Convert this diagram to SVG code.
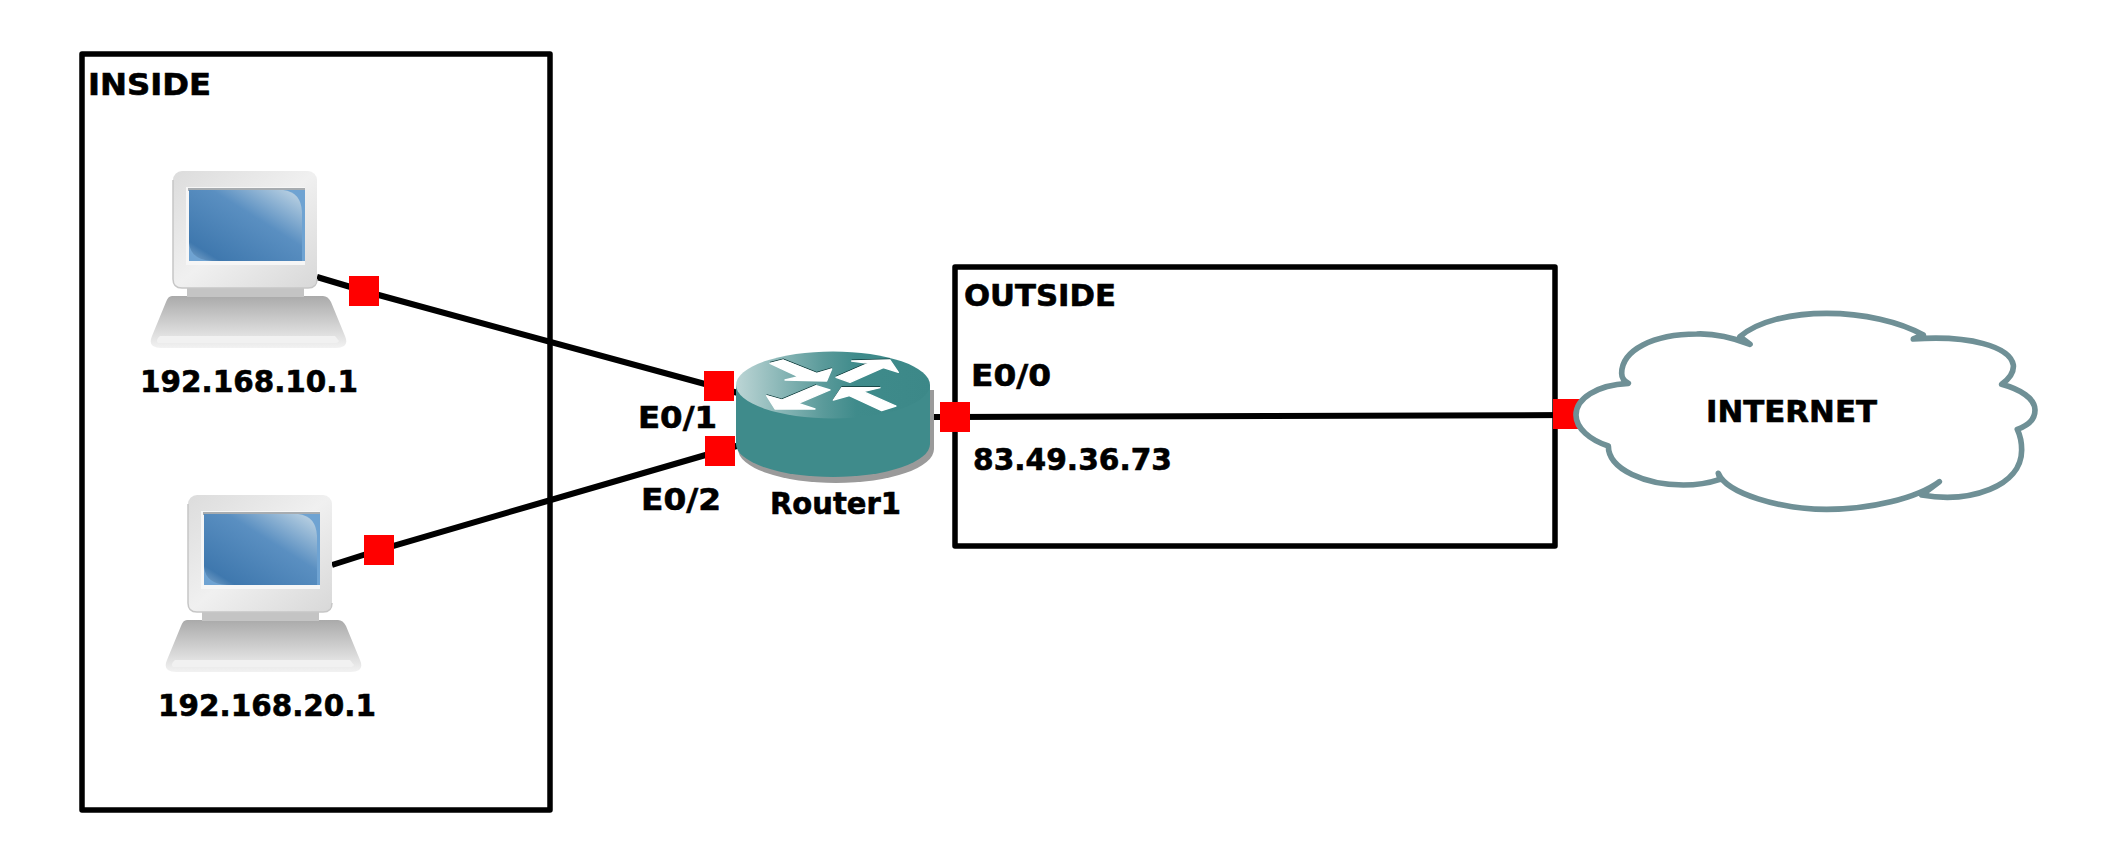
<svg xmlns="http://www.w3.org/2000/svg" width="2121" height="864" viewBox="0 0 2121 864">
<style>
text{font-family:"DejaVu Sans","Liberation Sans",sans-serif;font-weight:700;font-size:30px;fill:#000;stroke:#000;stroke-width:.6}
.zone{fill:none;stroke:#000;stroke-width:5.500;stroke-linejoin:round}
.link{fill:none;stroke:#000;stroke-width:6}
.port{fill:#f00}
.arrow{fill:#fff;stroke:#fff;stroke-width:4;stroke-linejoin:round}
.edge{fill:none;stroke:#123c3c;stroke-width:3}
</style>
<defs>
<linearGradient id="bez" x1="0" y1="0" x2="1" y2="1"><stop offset="0" stop-color="#dcdcdc"/><stop offset=".5" stop-color="#f0f0f0"/><stop offset="1" stop-color="#d8d8d8"/></linearGradient>
<linearGradient id="scr" x1="0" y1="1" x2="1" y2="0"><stop offset="0" stop-color="#80a8cc"/><stop offset=".14" stop-color="#3f78ae"/><stop offset=".6" stop-color="#5a8fc1"/><stop offset="1" stop-color="#c4d8e6"/></linearGradient>
<linearGradient id="base" x1="0" y1="0" x2="0" y2="1"><stop offset="0" stop-color="#aaaaaa"/><stop offset="1" stop-color="#f2f2f2"/></linearGradient>
<linearGradient id="rtop" x1="0" y1="0" x2="1" y2="0"><stop offset="0" stop-color="#bcd5d5"/><stop offset=".45" stop-color="#5a9a9a"/><stop offset=".62" stop-color="#3f8b8b"/><stop offset="1" stop-color="#3c8888"/></linearGradient>
<g id="pc">
<path d="M172 296H323Q328 296 331 302L345 336Q350 348 336 348H161Q147 348 152 336L166 302Q168 296 172 296Z" fill="url(#base)"/>
<path d="M158 343Q156 341 158 338L160 336L335 336L339 341Q338 343 336 343Z" fill="#f1f1f1"/>
<rect x="187" y="285" width="117" height="12" fill="#c4c4c4"/>
<rect x="173" y="171" width="144" height="117" rx="9" fill="url(#bez)"/>
<path d="M173 180V279Q173 288 182 288H308Q317 288 317 279" fill="none" stroke="#c6c6c6" stroke-width="1.500"/>
<rect x="186" y="187" width="119" height="78" fill="#f6f6f6"/>
<rect x="188" y="188" width="117" height="3" fill="#a7acb0"/>
<rect x="189" y="190" width="116" height="71" fill="#6fa3d2"/>
<path d="M189 190H283Q301 192 302 212V261H212Q191 260 189 243Z" fill="url(#scr)"/>
</g>
</defs>
<rect width="2121" height="864" fill="#fff"/>
<g id="connectors">
<path class="link" d="M317 277L364 291L738 393"/>
<path class="link" d="M332 565L379 550L740 445"/>
<path class="link" d="M928 417L955 417L1568 415"/>
</g>
<g id="zone-inside"><rect class="zone" x="82" y="54" width="468" height="756"/><text x="88" y="95" textLength="123" lengthAdjust="spacingAndGlyphs">INSIDE</text></g>
<g id="zone-outside"><rect class="zone" x="955" y="267" width="600" height="279"/><text x="964" y="306" textLength="152" lengthAdjust="spacingAndGlyphs">OUTSIDE</text></g>
<g id="pc1"><use href="#pc"/><text x="140" y="392" textLength="218" lengthAdjust="spacingAndGlyphs">192.168.10.1</text></g>
<g id="pc2"><use href="#pc" transform="translate(15 324)"/><text x="158" y="716" textLength="218" lengthAdjust="spacingAndGlyphs">192.168.20.1</text></g>
<g id="router1">
<path d="M738 390V449A98 34 0 0 0 934 449V390Z" fill="#9a9a9a"/>
<path d="M736 385V444A97 33 0 0 0 930 444V385Z" fill="#3f8b8b"/>
<ellipse cx="833" cy="385" rx="97" ry="33.500" fill="url(#rtop)"/>
<g transform="translate(730 345) scale(.33333)">
<path class="edge" d="M120 52L160 42L260 82L305 69M365 45L480 42M318 94L415 52M110 149L155 162L258 119M335 125L450 125M310 163L335 125"/>
<path class="arrow" d="M120 55L160 45L260 85L305 72L290 108L165 105L205 95Z"/>
<path class="arrow" d="M365 48L480 45L505 82L460 68L360 112L318 97L415 55Z"/>
<path class="arrow" d="M110 152L155 165L258 122L300 135L205 175L255 192L135 192Z"/>
<path class="arrow" d="M310 165L335 128L450 128L400 140L498 183L455 197L358 152Z"/>
</g>
<text x="770" y="514" textLength="131" lengthAdjust="spacingAndGlyphs">Router1</text>
</g>
<g id="cloud">
<rect class="port" x="1553" y="399" width="30" height="30"/>
<g transform="translate(1540 290) scale(.33333)">
<path d="M265 280C170 285 108 325 108 375C108 415 150 450 205 468C205 540 320 585 430 585C470 585 510 578 540 568L535 550C560 610 720 658 860 658C990 658 1130 625 1198 575L1145 615C1290 640 1445 590 1445 480C1445 460 1440 435 1432 418C1470 405 1485 385 1485 360C1485 325 1440 298 1385 283C1410 265 1422 245 1420 225C1410 170 1290 135 1120 147L1150 135C1080 95 970 70 860 70C750 70 650 95 600 140L630 163C570 140 520 130 470 132C340 132 245 180 245 250Q245 270 265 280Z" fill="#fff" stroke="#6f9096" stroke-width="17" stroke-linejoin="round" stroke-linecap="round"/>
</g>
<text x="1706" y="422" textLength="171" lengthAdjust="spacingAndGlyphs">INTERNET</text>
</g>
<g id="ports">
<rect class="port" x="349" y="276" width="30" height="30"/>
<rect class="port" x="364" y="535" width="30" height="30"/>
<rect class="port" x="704" y="371" width="30" height="30"/>
<rect class="port" x="705" y="436" width="30" height="30"/>
<rect class="port" x="940" y="402" width="30" height="30"/>
</g>
<g id="labels">
<text x="638" y="428" textLength="79" lengthAdjust="spacingAndGlyphs">E0/1</text>
<text x="641" y="510" textLength="80" lengthAdjust="spacingAndGlyphs">E0/2</text>
<text x="971" y="386" textLength="80" lengthAdjust="spacingAndGlyphs">E0/0</text>
<text x="973" y="470" textLength="199" lengthAdjust="spacingAndGlyphs">83.49.36.73</text>
</g>
</svg>
